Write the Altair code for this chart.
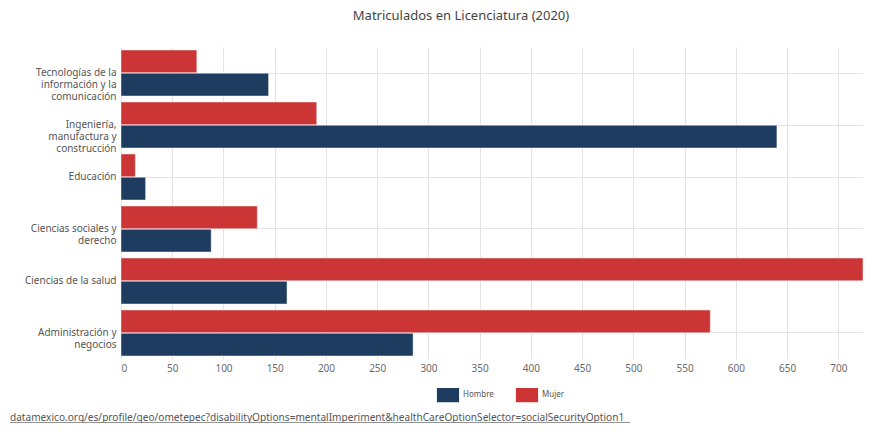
import altair as alt
import pandas as pd

categories = [
    "Tecnologías de la\ninformación y la\ncomunicación",
    "Ingeniería,\nmanufactura y\nconstrucción",
    "Educación",
    "Ciencias sociales y\nderecho",
    "Ciencias de la salud",
    "Administración y\nnegocios",
]
mujer = [74, 191, 14, 133, 724, 575]
hombre = [144, 640, 24, 88, 162, 285]
series = ["Mujer", "Hombre"]
legend_order = ["Hombre", "Mujer"]
colors = ["#1d3c5f", "#cb3535"]
x_ticks = list(range(0, 701, 50))
title_text = "Matriculados en Licenciatura (2020)"
footer_text = "datamexico.org/es/profile/geo/ometepec?disabilityOptions=mentalImperiment&healthCareOptionSelector=socialSecurityOption1"

rows = []
for c, m, h in zip(categories, mujer, hombre):
    rows.append({"cat": c, "sexo": "Mujer", "valor": m})
    rows.append({"cat": c, "sexo": "Hombre", "valor": h})
df = pd.DataFrame(rows)

W, H = 742, 312

bars = alt.Chart(df).mark_bar(stroke="#ffffff", strokeWidth=1, strokeOpacity=0.45).encode(
    x=alt.X("valor:Q",
            scale=alt.Scale(domain=[0, max(mujer + hombre)], nice=False, zero=True),
            axis=alt.Axis(values=x_ticks, title=None, domain=False, ticks=False,
                          labelPadding=4, labelFontSize=10, labelColor="#6b6b6b",
                          labelFont="Noto Sans", gridColor="#e3e3e3", gridWidth=1)),
    y=alt.Y("cat:N", sort=categories,
            scale=alt.Scale(paddingInner=0.115, paddingOuter=0.0577),
            axis=alt.Axis(title=None, domain=False, ticks=False, grid=True,
                          bandPosition=0.5, labelPadding=5, labelFontSize=10,
                          labelColor="#555555", labelFont="Noto Sans",
                          labelLineHeight=12, labelLimit=200,
                          labelExpr="split(datum.label, '\\n')",
                          gridColor="#e3e3e3", gridWidth=1)),
    yOffset=alt.YOffset("sexo:N", sort=series, scale=alt.Scale(paddingInner=0.02)),
    color=alt.Color("sexo:N",
                    scale=alt.Scale(domain=legend_order, range=colors),
                    legend=alt.Legend(title=None, orient="none", legendX=318, legendY=339,
                                      direction="horizontal",
                                      symbolType="M-1.5,-1H1.5V1H-1.5Z", symbolSize=250,
                                      symbolOpacity=1, symbolStrokeColor="#ffffff",
                                      labelFontSize=8, labelColor="#555555",
                                      labelFont="Noto Sans", labelOffset=6,
                                      columnPadding=18)),
)

footer = alt.Chart(pd.DataFrame({"t": [footer_text]})).mark_text(
    align="left", baseline="middle", fontSize=10.1, font="Noto Sans", color="#555555"
).encode(x=alt.value(-111), y=alt.value(370.5), text="t:N")

underline = alt.Chart(pd.DataFrame({"t": [footer_text]})).mark_rule(
    color="#777777", strokeWidth=0.8
).encode(x=alt.value(-111), x2=alt.value(509), y=alt.value(375.5))

chart = alt.layer(bars, footer, underline).properties(
    width=W, height=H,
    title=alt.TitleParams(title_text, fontSize=13, font="Noto Sans", fontWeight="normal",
                          color="#444444", anchor="middle", dx=-31, offset=24),
    autosize=alt.AutoSizeParams(type="none"),
    padding={"left": 113, "top": 39, "right": 0, "bottom": 64},
).configure_view(stroke=None)

chart.save("out.html", embed_options={"renderer": "svg", "actions": False})
